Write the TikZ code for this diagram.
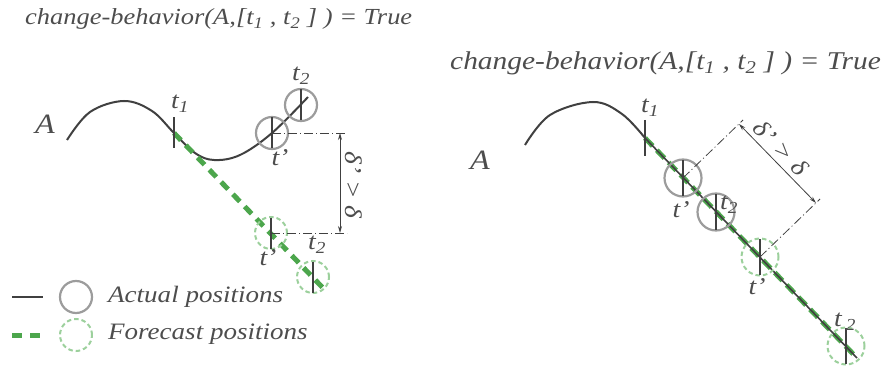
\documentclass[tikz,border=0pt]{standalone}
\usepackage{fontspec}
\setmainfont[FakeStretch=1.15]{Liberation Serif}
\usetikzlibrary{arrows.meta}
\definecolor{dark}{HTML}{404040}
\definecolor{txt}{HTML}{4D4D4D}
\definecolor{circg}{HTML}{9C9C9C}
\definecolor{fgreen}{HTML}{4CA64C}
\definecolor{lgreen}{HTML}{9CD09C}
\begin{document}
\begin{tikzpicture}[x=1pt,y=-1pt,
  actual/.style={circle, draw=circg, line width=2.2pt, minimum size=32pt, inner sep=0pt},
  fore/.style={circle, draw=lgreen, dash pattern=on 4.5pt off 3pt, line width=2pt, minimum size=32pt, inner sep=0pt},
  actualR/.style={actual, minimum size=37pt},
  foreR/.style={fore, minimum size=37pt},
  tickmark/.style={draw=dark, line width=2pt},
  traj/.style={draw=dark, line width=2pt},
  fdash/.style={draw=fgreen, line width=5pt, dash pattern=on 10pt off 7pt},
  fdashR/.style={draw=fgreen, line width=5pt, dash pattern=on 11pt off 6pt},
  dimline/.style={draw=dark, line width=0.8pt, dash pattern=on 9pt off 3pt on 1pt off 3pt},
  dimarrow/.style={draw=dark, line width=0.8pt, {Stealth[length=7pt,width=4pt]}-{Stealth[length=7pt,width=4pt]}},
  lbl/.style={text=txt, font=\fontsize{24}{28}\selectfont\itshape, inner sep=0pt},
  leg/.style={text=txt, font=\fontsize{23.5}{28}\selectfont\itshape, inner sep=0pt},
  ttl/.style={text=txt, font=\fontsize{23}{26}\selectfont\itshape, inner sep=0pt},
  ttlR/.style={text=txt, font=\fontsize{25.6}{28}\selectfont\itshape, inner sep=0pt},
  bigA/.style={text=txt, font=\fontsize{28}{32}\selectfont\itshape, inner sep=0pt}
]
\useasboundingbox (0,0) rectangle (888,374);

% ---------- left panel ----------
\node[ttl, anchor=base west] (Ltitle) at (25,25) {change-behavior(A,[t\textsubscript{1} , t\textsubscript{2} ] ) = True};
\node[bigA] (LA) at (45,124) {A};

\coordinate (Lt1) at (174,133);
\coordinate (Lfend) at (323,288);
\draw[traj] plot[smooth, tension=0.6] coordinates {(67,140) (90,112) (124,101) (152,111) (174,133) (195,153) (214,160) (240,155) (272,133) (308,97)};
\draw[fdash] (Lt1) -- (Lfend);

\node[actual] (LAtp) at (272,133) {};
\node[actual] (LAt2) at (301,105) {};
\node[fore] (LFtp) at (271,233) {};
\node[fore] (LFt2) at (313,277) {};

\draw[tickmark] ([yshift=15.5pt]Lt1) -- ([yshift=-15.5pt]Lt1);
\foreach \n in {LAtp,LAt2,LFtp,LFt2} \draw[tickmark] ([yshift=15.5pt]\n.center) -- ([yshift=-15.5pt]\n.center);

\node[lbl] (Lt1l) at (180,104) {t\textsubscript{1}};
\node[lbl] (Ltpl) at (280,158) {t'};
\node[lbl] (Lt2l) at (301,76) {t\textsubscript{2}};
\node[lbl] (LFtpl) at (268,258) {t'};
\node[lbl] (LFt2l) at (317,245) {t\textsubscript{2}};

\coordinate (Ld1) at (347,133);
\coordinate (Ld2) at (347,233);
\draw[dimline] (LAtp.center) -- (Ld1);
\draw[dimline] (LFtp.center) -- (Ld2);
\coordinate (La1) at (340,133);
\coordinate (La2) at (340,233);
\draw[dimarrow] (La1) -- (La2);
\node[lbl, rotate=-90] (Ldel) at (354,185) {δ' > δ};

% ---------- legend ----------
\coordinate (Lg1) at (12,297);
\coordinate (Lg2) at (43,297);
\coordinate (Lg3) at (12,335);
\coordinate (Lg4) at (43,335);
\draw[traj] (Lg1) -- (Lg2);
\draw[fdash, dash pattern=on 10pt off 8pt] (Lg3) -- (Lg4);
\node[actual] (LgA) at (76,297) {};
\node[fore] (LgF) at (76,335) {};
\node[leg, anchor=west] (LgAt) at (108,297) {Actual positions};
\node[leg, anchor=west] (LgFt) at (108,334) {Forecast positions};

% ---------- right panel ----------
\node[ttlR, anchor=base west] (Rtitle) at (450,70) {change-behavior(A,[t\textsubscript{1} , t\textsubscript{2} ] ) = True};
\node[bigA] (RA) at (480,160) {A};

\coordinate (Rt1) at (645,138);
\coordinate (Rend) at (857,358);
\draw[fdashR] (Rt1) -- (Rend);
\draw[traj] plot[smooth, tension=0.6] coordinates {(525,145) (550,115) (593,102) (622,114) (645,138)};
\draw[traj, line width=1.6pt] (Rt1) -- (Rend);

\node[actualR] (RAtp) at (683,178) {};
\node[actualR] (RAt2) at (716,212) {};
\node[foreR] (RFtp) at (760,257) {};
\node[foreR] (RFt2) at (846,346) {};

\draw[tickmark] ([yshift=18pt]Rt1) -- ([yshift=-18pt]Rt1);
\foreach \n in {RAtp,RAt2,RFtp,RFt2} \draw[tickmark] ([yshift=18pt]\n.center) -- ([yshift=-18pt]\n.center);

\node[lbl] (Rt1l) at (650,108) {t\textsubscript{1}};
\node[lbl] (Rtpl) at (681,210) {t'};
\node[lbl] (Rt2l) at (729,205) {t\textsubscript{2}};
\node[lbl] (RFtpl) at (757,287) {t'};
\node[lbl] (RFt2l) at (845,322) {t\,\textsubscript{2}};

\coordinate (Rd1) at (743,120);
\coordinate (Rd2) at (820,199);
\draw[dimline] (RAtp.center) -- (Rd1);
\draw[dimline] (RFtp.center) -- (Rd2);
\coordinate (Ra1) at (739,124);
\coordinate (Ra2) at (816,203);
\draw[dimarrow] (Ra1) -- node[lbl, sloped, pos=0.42, above=4pt] (Rdel) {δ' > δ} (Ra2);
\end{tikzpicture}
\end{document}
